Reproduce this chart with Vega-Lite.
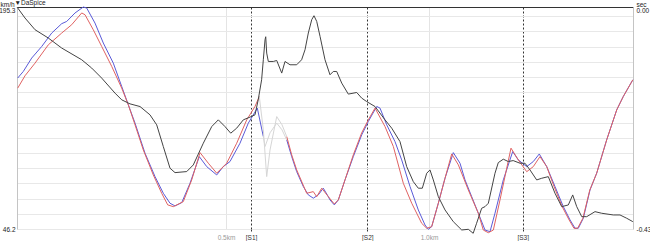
{
"$schema": "https://vega.github.io/schema/vega-lite/v6.json",
"width": 616, "height": 222,
"autosize": {"type": "none"},
"padding": {"left": 17, "top": 7, "right": 17, "bottom": 12},
"background": "white",
"config": {"view": {"stroke": null}, "font": "Liberation Sans"},
"title": {"text": "▼DaSpice", "anchor": "start", "frame": "group", "orient": "top", "offset": 0, "baseline": "bottom", "dx": -2.5, "dy": 11, "fontSize": 6.5, "fontWeight": "normal", "color": "#222"},
"datasets": {
"speed": [
{"d":-13.1,"v":147.6,"s":"ref","g":"ref1"},{"d":0.7,"v":152.0,"s":"ref","g":"ref1"},{"d":21.4,"v":161.0,"s":"ref","g":"ref1"},{"d":46.1,"v":168.8,"s":"ref","g":"ref1"},{"d":70.7,"v":177.8,"s":"ref","g":"ref1"},{"d":95.3,"v":184.1,"s":"ref","g":"ref1"},{"d":107.6,"v":185.6,"s":"ref","g":"ref1"},{"d":128.1,"v":191.3,"s":"ref","g":"ref1"},{"d":148.5,"v":195.3,"s":"ref","g":"ref1"},{"d":156.9,"v":194.6,"s":"ref","g":"ref1"},{"d":177.3,"v":184.5,"s":"ref","g":"ref1"},{"d":197.8,"v":171.1,"s":"ref","g":"ref1"},{"d":222.4,"v":157.6,"s":"ref","g":"ref1"},{"d":243.1,"v":141.9,"s":"ref","g":"ref1"},{"d":259.4,"v":129.6,"s":"ref","g":"ref1"},{"d":275.9,"v":117.3,"s":"ref","g":"ref1"},{"d":300.5,"v":97.1,"s":"ref","g":"ref1"},{"d":325.1,"v":81.4,"s":"ref","g":"ref1"},{"d":345.6,"v":70.2,"s":"ref","g":"ref1"},{"d":362.1,"v":63.5,"s":"ref","g":"ref1"},{"d":374.4,"v":61.7,"s":"ref","g":"ref1"},{"d":390.9,"v":63.9,"s":"ref","g":"ref1"},{"d":411.3,"v":76.9,"s":"ref","g":"ref1"},{"d":434.2,"v":94.8,"s":"ref","g":"ref1"},{"d":452.5,"v":88.1,"s":"ref","g":"ref1"},{"d":477.1,"v":82.5,"s":"ref","g":"ref1"},{"d":493.3,"v":88.1,"s":"ref","g":"ref1"},{"d":509.8,"v":91.5,"s":"ref","g":"ref1"},{"d":534.4,"v":103.8,"s":"ref","g":"ref1"},{"d":554.9,"v":117.3,"s":"ref","g":"ref1"},{"d":577.1,"v":127.4,"s":"ref","g":"ref1"},{"d":591.9,"v":108.3,"s":"ref","g":"ref1"},
{"d":649.5,"v":106.1,"s":"ref","g":"ref2"},{"d":661.8,"v":94.8,"s":"ref","g":"ref2"},{"d":674.1,"v":84.7,"s":"ref","g":"ref2"},{"d":690.4,"v":74.7,"s":"ref","g":"ref2"},{"d":702.7,"v":69.1,"s":"ref","g":"ref2"},{"d":715.0,"v":66.9,"s":"ref","g":"ref2"},{"d":727.3,"v":69.1,"s":"ref","g":"ref2"},{"d":739.6,"v":73.6,"s":"ref","g":"ref2"},{"d":752.0,"v":67.9,"s":"ref","g":"ref2"},{"d":756.1,"v":65.7,"s":"ref","g":"ref2"},{"d":766.7,"v":62.4,"s":"ref","g":"ref2"},{"d":776.6,"v":65.7,"s":"ref","g":"ref2"},{"d":793.1,"v":79.2,"s":"ref","g":"ref2"},{"d":813.5,"v":94.8,"s":"ref","g":"ref2"},{"d":834.2,"v":109.4,"s":"ref","g":"ref2"},{"d":850.5,"v":118.4,"s":"ref","g":"ref2"},{"d":871.2,"v":128.5,"s":"ref","g":"ref2"},{"d":879.3,"v":127.4,"s":"ref","g":"ref2"},{"d":895.8,"v":116.2,"s":"ref","g":"ref2"},{"d":916.2,"v":104.9,"s":"ref","g":"ref2"},{"d":932.7,"v":92.6,"s":"ref","g":"ref2"},{"d":953.2,"v":74.7,"s":"ref","g":"ref2"},{"d":973.6,"v":59.0,"s":"ref","g":"ref2"},{"d":990.1,"v":48.9,"s":"ref","g":"ref2"},{"d":998.3,"v":46.0,"s":"ref","g":"ref2"},{"d":1006.6,"v":47.8,"s":"ref","g":"ref2"},{"d":1022.9,"v":63.5,"s":"ref","g":"ref2"},{"d":1039.4,"v":80.3,"s":"ref","g":"ref2"},{"d":1059.8,"v":97.5,"s":"ref","g":"ref2"},{"d":1076.3,"v":90.4,"s":"ref","g":"ref2"},{"d":1088.6,"v":79.2,"s":"ref","g":"ref2"},{"d":1105.1,"v":67.9,"s":"ref","g":"ref2"},{"d":1121.4,"v":56.8,"s":"ref","g":"ref2"},{"d":1137.9,"v":45.5,"s":"ref","g":"ref2"},{"d":1150.2,"v":44.4,"s":"ref","g":"ref2"},{"d":1162.5,"v":56.8,"s":"ref","g":"ref2"},{"d":1183.0,"v":79.2,"s":"ref","g":"ref2"},{"d":1206.1,"v":98.2,"s":"ref","g":"ref2"},{"d":1219.9,"v":92.6,"s":"ref","g":"ref2"},{"d":1240.6,"v":88.1,"s":"ref","g":"ref2"},{"d":1256.8,"v":91.5,"s":"ref","g":"ref2"},{"d":1271.6,"v":96.6,"s":"ref","g":"ref2"},{"d":1289.9,"v":88.1,"s":"ref","g":"ref2"},{"d":1310.3,"v":74.7,"s":"ref","g":"ref2"},{"d":1330.8,"v":61.2,"s":"ref","g":"ref2"},{"d":1347.3,"v":52.3,"s":"ref","g":"ref2"},{"d":1359.6,"v":46.7,"s":"ref","g":"ref2"},{"d":1367.7,"v":46.7,"s":"ref","g":"ref2"},{"d":1380.0,"v":53.4,"s":"ref","g":"ref2"},{"d":1396.5,"v":72.4,"s":"ref","g":"ref2"},{"d":1413.0,"v":83.7,"s":"ref","g":"ref2"},{"d":1437.6,"v":106.1,"s":"ref","g":"ref2"},{"d":1462.3,"v":126.2,"s":"ref","g":"ref2"},{"d":1478.5,"v":135.2,"s":"ref","g":"ref2"},{"d":1502.0,"v":146.4,"s":"ref","g":"ref2"},
{"d":-13.1,"v":140.8,"s":"DaSpice","g":"da1"},{"d":4.9,"v":149.1,"s":"DaSpice","g":"da1"},{"d":29.6,"v":157.6,"s":"DaSpice","g":"da1"},{"d":62.3,"v":169.9,"s":"DaSpice","g":"da1"},{"d":95.3,"v":177.8,"s":"DaSpice","g":"da1"},{"d":119.9,"v":183.4,"s":"DaSpice","g":"da1"},{"d":144.6,"v":191.3,"s":"DaSpice","g":"da1"},{"d":152.7,"v":190.1,"s":"DaSpice","g":"da1"},{"d":173.1,"v":180.0,"s":"DaSpice","g":"da1"},{"d":193.8,"v":168.8,"s":"DaSpice","g":"da1"},{"d":218.5,"v":155.4,"s":"DaSpice","g":"da1"},{"d":243.1,"v":140.8,"s":"DaSpice","g":"da1"},{"d":259.4,"v":129.6,"s":"DaSpice","g":"da1"},{"d":275.9,"v":116.2,"s":"DaSpice","g":"da1"},{"d":296.3,"v":99.3,"s":"DaSpice","g":"da1"},{"d":320.9,"v":82.5,"s":"DaSpice","g":"da1"},{"d":341.6,"v":70.2,"s":"DaSpice","g":"da1"},{"d":356.4,"v":62.4,"s":"DaSpice","g":"da1"},{"d":370.2,"v":61.2,"s":"DaSpice","g":"da1"},{"d":394.8,"v":64.6,"s":"DaSpice","g":"da1"},{"d":415.5,"v":79.2,"s":"DaSpice","g":"da1"},{"d":436.0,"v":97.5,"s":"DaSpice","g":"da1"},{"d":456.4,"v":90.4,"s":"DaSpice","g":"da1"},{"d":477.1,"v":83.7,"s":"DaSpice","g":"da1"},{"d":501.7,"v":90.4,"s":"DaSpice","g":"da1"},{"d":526.3,"v":103.8,"s":"DaSpice","g":"da1"},{"d":551.0,"v":119.5,"s":"DaSpice","g":"da1"},{"d":571.4,"v":128.5,"s":"DaSpice","g":"da1"},{"d":582.0,"v":135.2,"s":"DaSpice","g":"da1"},
{"d":649.5,"v":108.3,"s":"DaSpice","g":"da2"},{"d":661.8,"v":96.0,"s":"DaSpice","g":"da2"},{"d":674.1,"v":85.9,"s":"DaSpice","g":"da2"},{"d":698.7,"v":70.2,"s":"DaSpice","g":"da2"},{"d":715.0,"v":71.3,"s":"DaSpice","g":"da2"},{"d":723.4,"v":67.9,"s":"DaSpice","g":"da2"},{"d":735.7,"v":73.6,"s":"DaSpice","g":"da2"},{"d":752.0,"v":67.9,"s":"DaSpice","g":"da2"},{"d":766.7,"v":63.0,"s":"DaSpice","g":"da2"},{"d":776.6,"v":65.7,"s":"DaSpice","g":"da2"},{"d":793.1,"v":79.2,"s":"DaSpice","g":"da2"},{"d":813.5,"v":96.0,"s":"DaSpice","g":"da2"},{"d":834.2,"v":110.8,"s":"DaSpice","g":"da2"},{"d":850.5,"v":119.5,"s":"DaSpice","g":"da2"},{"d":867.0,"v":127.4,"s":"DaSpice","g":"da2"},{"d":891.6,"v":115.0,"s":"DaSpice","g":"da2"},{"d":912.1,"v":101.6,"s":"DaSpice","g":"da2"},{"d":936.7,"v":76.9,"s":"DaSpice","g":"da2"},{"d":957.4,"v":63.5,"s":"DaSpice","g":"da2"},{"d":982.0,"v":50.0,"s":"DaSpice","g":"da2"},{"d":994.3,"v":46.7,"s":"DaSpice","g":"da2"},{"d":1006.6,"v":47.8,"s":"DaSpice","g":"da2"},{"d":1022.9,"v":63.5,"s":"DaSpice","g":"da2"},{"d":1039.4,"v":80.3,"s":"DaSpice","g":"da2"},{"d":1055.9,"v":96.6,"s":"DaSpice","g":"da2"},{"d":1072.2,"v":89.3,"s":"DaSpice","g":"da2"},{"d":1096.8,"v":72.4,"s":"DaSpice","g":"da2"},{"d":1121.4,"v":56.8,"s":"DaSpice","g":"da2"},{"d":1133.7,"v":45.5,"s":"DaSpice","g":"da2"},{"d":1146.1,"v":43.7,"s":"DaSpice","g":"da2"},{"d":1158.4,"v":45.5,"s":"DaSpice","g":"da2"},{"d":1174.8,"v":65.7,"s":"DaSpice","g":"da2"},{"d":1201.9,"v":100.5,"s":"DaSpice","g":"da2"},{"d":1219.9,"v":92.6,"s":"DaSpice","g":"da2"},{"d":1240.6,"v":84.7,"s":"DaSpice","g":"da2"},{"d":1256.8,"v":88.1,"s":"DaSpice","g":"da2"},{"d":1273.3,"v":94.8,"s":"DaSpice","g":"da2"},{"d":1289.9,"v":88.1,"s":"DaSpice","g":"da2"},{"d":1308.0,"v":74.7,"s":"DaSpice","g":"da2"},{"d":1328.0,"v":61.2,"s":"DaSpice","g":"da2"},{"d":1345.0,"v":52.3,"s":"DaSpice","g":"da2"},{"d":1357.0,"v":46.7,"s":"DaSpice","g":"da2"},{"d":1366.0,"v":46.7,"s":"DaSpice","g":"da2"},{"d":1379.0,"v":53.4,"s":"DaSpice","g":"da2"},{"d":1396.0,"v":72.4,"s":"DaSpice","g":"da2"},{"d":1413.0,"v":83.7,"s":"DaSpice","g":"da2"},{"d":1437.6,"v":106.1,"s":"DaSpice","g":"da2"},{"d":1462.3,"v":126.2,"s":"DaSpice","g":"da2"},{"d":1478.5,"v":135.2,"s":"DaSpice","g":"da2"},{"d":1502.0,"v":146.4,"s":"DaSpice","g":"da2"},
{"d":582.0,"v":135.2,"s":"ghost","g":"gh1"},{"d":591.9,"v":112.8,"s":"ghost","g":"gh1"},{"d":600.2,"v":81.4,"s":"ghost","g":"gh1"},{"d":608.4,"v":99.3,"s":"ghost","g":"gh1"},{"d":624.9,"v":121.7,"s":"ghost","g":"gh1"},{"d":637.9,"v":116.2,"s":"ghost","g":"gh1"},{"d":649.5,"v":108.3,"s":"ghost","g":"gh1"},
{"d":591.9,"v":108.3,"s":"ghost","g":"gh2"},{"d":596.1,"v":101.6,"s":"ghost","g":"gh2"},{"d":608.4,"v":110.8,"s":"ghost","g":"gh2"},{"d":624.9,"v":117.3,"s":"ghost","g":"gh2"},{"d":637.9,"v":112.8,"s":"ghost","g":"gh2"},{"d":649.5,"v":106.1,"s":"ghost","g":"gh2"}
],
"delta": [
{"d":-14.8,"t":0.0},{"d":4.9,"t":-0.0213},{"d":29.6,"t":-0.044},{"d":62.3,"t":-0.0601},{"d":95.3,"t":-0.0795},{"d":144.6,"t":-0.1022},{"d":169.2,"t":-0.1183},{"d":193.8,"t":-0.1377},{"d":226.6,"t":-0.1668},{"d":243.1,"t":-0.1798},{"d":263.5,"t":-0.1876},{"d":288.2,"t":-0.1928},{"d":312.8,"t":-0.2089},{"d":329.3,"t":-0.2283},{"d":345.6,"t":-0.2704},{"d":362.1,"t":-0.3123},{"d":374.4,"t":-0.3208},{"d":403.2,"t":-0.3188},{"d":419.4,"t":-0.3059},{"d":444.1,"t":-0.2638},{"d":464.8,"t":-0.2316},{"d":481.0,"t":-0.2186},{"d":497.5,"t":-0.2316},{"d":511.6,"t":-0.2444},{"d":526.3,"t":-0.2347},{"d":542.6,"t":-0.2186},{"d":559.1,"t":-0.2133},{"d":571.4,"t":-0.2089},{"d":579.3,"t":-0.1798},{"d":587.7,"t":-0.141},{"d":591.9,"t":-0.1022},{"d":596.1,"t":-0.0634},{"d":597.8,"t":-0.0576},{"d":600.2,"t":-0.0892},{"d":604.2,"t":-0.1055},{"d":616.5,"t":-0.1055},{"d":624.9,"t":-0.1036},{"d":637.2,"t":-0.128},{"d":645.3,"t":-0.1055},{"d":657.6,"t":-0.1119},{"d":674.1,"t":-0.1119},{"d":686.2,"t":-0.1022},{"d":694.6,"t":-0.0828},{"d":702.7,"t":-0.0504},{"d":711.1,"t":-0.0246},{"d":716.7,"t":-0.0169},{"d":723.4,"t":-0.0279},{"d":731.6,"t":-0.057},{"d":743.8,"t":-0.1022},{"d":756.1,"t":-0.1313},{"d":764.2,"t":-0.1249},{"d":772.6,"t":-0.1249},{"d":785.0,"t":-0.1474},{"d":801.2,"t":-0.1687},{"d":821.9,"t":-0.1656},{"d":834.2,"t":-0.1765},{"d":846.3,"t":-0.1831},{"d":867.0,"t":-0.1928},{"d":891.6,"t":-0.2186},{"d":908.1,"t":-0.2347},{"d":928.5,"t":-0.2607},{"d":945.0,"t":-0.3092},{"d":961.3,"t":-0.3383},{"d":973.6,"t":-0.351},{"d":983.5,"t":-0.351},{"d":994.3,"t":-0.322},{"d":1002.4,"t":-0.3156},{"d":1010.6,"t":-0.335},{"d":1022.9,"t":-0.3673},{"d":1039.4,"t":-0.3931},{"d":1059.8,"t":-0.4158},{"d":1080.5,"t":-0.4319},{"d":1096.8,"t":-0.4306},{"d":1108.8,"t":-0.4383},{"d":1117.2,"t":-0.4189},{"d":1129.7,"t":-0.3898},{"d":1137.9,"t":-0.3867},{"d":1146.1,"t":-0.3801},{"d":1162.5,"t":-0.322},{"d":1170.6,"t":-0.3014},{"d":1183.0,"t":-0.2948},{"d":1195.3,"t":-0.2994},{"d":1207.3,"t":-0.2975},{"d":1224.1,"t":-0.3026},{"d":1236.4,"t":-0.3026},{"d":1248.7,"t":-0.3156},{"d":1265.2,"t":-0.335},{"d":1277.6,"t":-0.3317},{"d":1293.8,"t":-0.3286},{"d":1310.3,"t":-0.3608},{"d":1326.8,"t":-0.3867},{"d":1343.1,"t":-0.3834},{"d":1353.9,"t":-0.364},{"d":1363.8,"t":-0.3867},{"d":1376.1,"t":-0.4061},{"d":1388.4,"t":-0.4061},{"d":1408.8,"t":-0.3964},{"d":1425.3,"t":-0.3995},{"d":1453.9,"t":-0.4028},{"d":1470.4,"t":-0.4028},{"d":1486.9,"t":-0.4092},{"d":1502.0,"t":-0.4158}
]
},
"layer": [
{"data": {"name": "speed"},
 "mark": {"type": "line", "strokeWidth": 1},
 "encoding": {
  "x": {"field": "d", "type": "quantitative", "scale": {"domain": [-14.8, 1502.4], "nice": false, "zero": false},
    "axis": {"values": [500, 561.6, 848, 1000, 1230.8], "title": null, "domain": false,
      "labelExpr": "datum.value == 500 ? '0.5km' : datum.value == 1000 ? '1.0km' : datum.value < 700 ? '[S1]' : datum.value < 1100 ? '[S2]' : '[S3]'",
      "labelColor": {"condition": {"test": "datum.value == 500 || datum.value == 1000", "value": "#999999"}, "value": "#333333"},
      "labelFontSize": 6.5, "labelPadding": 1, "labelFont": "Liberation Sans",
      "grid": true,
      "gridColor": {"condition": {"test": "datum.value == 500 || datum.value == 1000", "value": "#e4e4e4"}, "value": "#333333"},
      "gridDash": {"condition": {"test": "datum.value == 500 || datum.value == 1000", "value": []}, "value": [2, 2]},
      "ticks": true, "tickSize": 4, "tickDash": [2, 2],
      "tickColor": {"condition": {"test": "datum.value == 500 || datum.value == 1000", "value": "transparent"}, "value": "#333333"},
      "labelOverlap": false}},
  "y": {"field": "v", "type": "quantitative", "scale": {"domain": [46.2, 195.3], "nice": false, "zero": false},
    "axis": {"values": [46.2, 56.41, 66.62, 76.83, 87.04, 97.25, 107.46, 117.67, 127.88, 138.09, 148.3, 158.51, 168.72, 178.93, 189.14, 195.3],
      "labelExpr": "datum.value == 46.2 || datum.value == 195.3 ? format(datum.value, '.1f') : ''",
      "labelBaseline": {"condition": {"test": "datum.value == 195.3", "value": "top"}, "value": "middle"},
      "labelFontSize": 6.5, "labelColor": "#222222", "labelPadding": 2, "labelOverlap": false,
      "ticks": false, "domain": true, "domainColor": "#c4c4c4",
      "grid": true,
      "gridColor": {"condition": {"test": "datum.value == 195.3", "value": "#333333"}, "value": "#e8e8e8"},
      "title": "km/h", "titleAngle": 0, "titleX": -17, "titleY": -0.5, "titleAlign": "left", "titleBaseline": "alphabetic",
      "titleFontSize": 6.5, "titleFontWeight": "normal", "titleColor": "#222222"}},
  "color": {"field": "s", "type": "nominal", "scale": {"domain": ["ghost", "DaSpice", "ref"], "range": ["#d6d6d6", "#e06262", "#5a5ad8"]}, "legend": null},
  "detail": {"field": "g"},
  "order": {"field": "d", "type": "quantitative"}
 }},
{"data": {"name": "delta"},
 "mark": {"type": "line", "strokeWidth": 1, "color": "#444444"},
 "encoding": {
  "x": {"field": "d", "type": "quantitative"},
  "y": {"field": "t", "type": "quantitative", "scale": {"domain": [-0.43, 0], "nice": false, "zero": false},
    "axis": {"orient": "right", "values": [-0.43, 0],
      "labelExpr": "datum.value == 0 ? '0.00' : '-0.43'",
      "labelBaseline": {"condition": {"test": "datum.value == 0", "value": "top"}, "value": "middle"},
      "labelFontSize": 6.5, "labelColor": "#222222", "labelPadding": 3,
      "ticks": false, "grid": false, "domain": true, "domainColor": "#c4c4c4",
      "title": "sec", "titleAngle": 0, "titleX": 3, "titleY": -0.5, "titleAlign": "left", "titleBaseline": "alphabetic",
      "titleFontSize": 6.5, "titleFontWeight": "normal", "titleColor": "#222222"}}
 }}
],
"resolve": {"scale": {"y": "independent"}}
}
